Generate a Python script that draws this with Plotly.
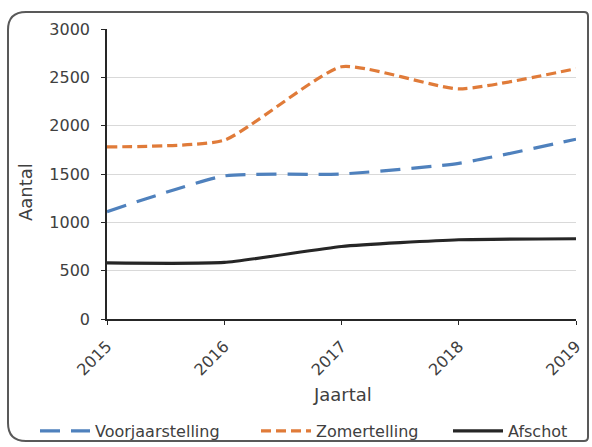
import plotly.graph_objects as go

years = ["2015", "2016", "2017", "2018", "2019"]
voorjaar = [1110, 1480, 1500, 1610, 1860]
zomer = [1780, 1850, 2610, 2380, 2590]
afschot = [580, 585, 750, 820, 830]
y_ticks = [0, 500, 1000, 1500, 2000, 2500, 3000]

W, H = 592, 447
L, R, T, B = 107, 16, 29, 128
pw, ph = W - L - R, H - T - B

def px(x):
    return (x - L) / pw

def py(y):
    return (H - B - y) / ph

fig = go.Figure()
fig.add_trace(go.Scatter(x=years, y=voorjaar, name="Voorjaarstelling", mode="lines", legend="legend",
                         line=dict(color="#4F81BD", width=3.2, dash="20px,11px", shape="spline", smoothing=0.5)))
fig.add_trace(go.Scatter(x=years, y=zomer, name="Zomertelling", mode="lines", legend="legend2",
                         line=dict(color="#E07B39", width=3.2, dash="10px,5px", shape="spline", smoothing=0.5)))
fig.add_trace(go.Scatter(x=years, y=afschot, name="Afschot", mode="lines", legend="legend3",
                         line=dict(color="#262626", width=3.2, shape="spline", smoothing=0.5)))

# rounded border
x0, x1, y0, y1 = 8, 588, 12, 441
r = 18
path = (f"M {px(x0+r)},{py(y0)} L {px(x1-4)},{py(y0)} Q {px(x1)},{py(y0)} {px(x1)},{py(y0+4)} "
        f"L {px(x1)},{py(y1-4)} Q {px(x1)},{py(y1)} {px(x1-4)},{py(y1)} "
        f"L {px(x0+r)},{py(y1)} Q {px(x0)},{py(y1)} {px(x0)},{py(y1-r)} "
        f"L {px(x0)},{py(y0+r)} Q {px(x0)},{py(y0)} {px(x0+r)},{py(y0)} Z")
fig.add_shape(type="path", path=path, xref="paper", yref="paper",
              line=dict(color="#595959", width=2), layer="below")

font = "DejaVu Sans, sans-serif"
txt = "#404040"

def leg(xpix):
    return dict(orientation="h", x=px(xpix), xanchor="left", y=py(431), yanchor="middle",
                font=dict(size=16, color=txt, family=font), bgcolor="rgba(0,0,0,0)",
                itemwidth=50)

fig.update_layout(
    width=W, height=H,
    margin=dict(l=L, r=R, t=T, b=B, autoexpand=False),
    paper_bgcolor="white", plot_bgcolor="white",
    font=dict(family=font, size=16, color=txt),
    showlegend=True,
    legend=leg(35),
    legend2=leg(256),
    legend3=leg(448),
    xaxis=dict(type="category", range=[0, 4], showgrid=False, showline=True, linecolor="#262626",
               linewidth=1.5, ticks="outside", ticklen=4, tickcolor="#262626", tickangle=-45,
               tickfont=dict(size=16), ticklabelstandoff=6, automargin=False, zeroline=False),
    yaxis=dict(range=[0, 3000], tickvals=y_ticks, showgrid=True, gridcolor="#D9D9D9", gridwidth=1,
               showline=True, linecolor="#262626", linewidth=1.5, ticks="outside", ticklen=4,
               tickcolor="#262626", tickfont=dict(size=16), ticklabelstandoff=8,
               automargin=False, zeroline=False),
    annotations=[
        dict(text="Jaartal", x=px(342), y=py(394), xref="paper", yref="paper", showarrow=False,
             xanchor="center", yanchor="middle", font=dict(size=18, color=txt)),
        dict(text="Aantal", x=px(25), y=py(192), xref="paper", yref="paper", showarrow=False,
             xanchor="center", yanchor="middle", textangle=-90, font=dict(size=18, color=txt)),
    ],
)

post = ("document.documentElement.style.margin='0';document.body.style.margin='0';"
        "document.body.style.overflow='hidden';"
        "var gd=document.getElementById('{plot_id}');gd.style.position='fixed';"
        "gd.style.left='0px';gd.style.top='0px';")
fig.write_html("out.html", config={"displayModeBar": False}, post_script=post)
